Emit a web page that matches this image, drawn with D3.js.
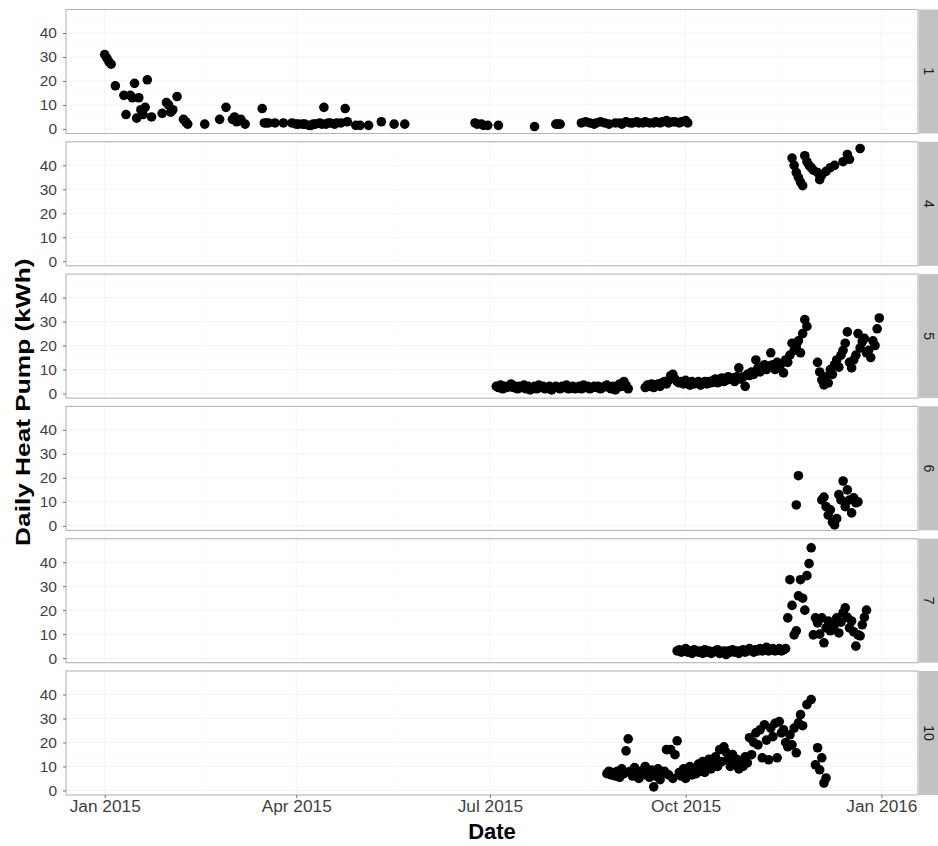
<!DOCTYPE html>
<html>
<head>
<meta charset="utf-8">
<script src="https://cdn.jsdelivr.net/npm/d3@7"></script>
<style>
  html, body { margin: 0; padding: 0; background: #fff; }
  svg { display: block; }
</style>
</head>
<body>
<div id="chart"></div>
<script>
// ---------------- DATA ----------------
// Each point: [day index counted from 2015-01-01, daily heat pump kWh]
const baseDate = "2015-01-01";
const facetLabels = ["1", "4", "5", "6", "7", "10"];
const yTicks = [0, 10, 20, 30, 40];
const xTickDates = ["2015-01-01", "2015-04-01", "2015-07-01", "2015-10-01", "2016-01-01"];
const xTickLabels = ["Jan 2015", "Apr 2015", "Jul 2015", "Oct 2015", "Jan 2016"];
const yTitle = "Daily Heat Pump (kWh)";
const xTitle = "Date";

const unit1 = [[0,31],[1,29.5],[2,28],[3,27],[5,18],[9,14],[10,6],[12,14],[13,13],[14,19],[15,4.5],[16,13],[17,8],[18,6],[19,9],[20,20.5],[22,5],[27,6.5],[29,11],[30,10],[31,7],[32,8],[34,13.5],[37,4],[38,3],[39,2],[47,2],[54,4],[57,9],[60,4],[61,5],[62,3],[63,3.5],[64,4],[66,2],[74,8.5],[75,2.5],[76,2.5],[77,2.5],[80,2.5],[84,2.5],[88,2.5],[90,2],[91,2],[93,2],[94,2],[96,1.5],[97,1.5],[98,2],[99,2],[101,2.5],[102,2],[103,9],[104,2],[105,2.5],[106,2.5],[108,2],[109,2.5],[111,2.5],[113,8.5],[114,3],[118,1.5],[120,1.5],[124,1.5],[130,3],[136,2],[141,2],[174,2.5],[175,2],[177,2],[178,1.5],[180,1.5],[185,1.5],[202,1],[212,2],[213,2],[214,2],[224,2.5],[226,3],[228,2.5],[230,2],[231,2.5],[233,3],[235,2.5],[237,2],[240,2.5],[242,2.5],[243,2],[245,3],[247,2.5],[248,2.5],[250,3],[251,2.5],[253,2.5],[254,3],[256,2.5],[258,2.5],[259,3],[261,2.5],[262,3],[264,3.5],[265,2.5],[267,3],[268,3],[270,2.5],[271,3],[273,3.5],[274,2.5]];

const unit4 = [[323,43],[324,40],[325,37],[326,35],[327,33],[328,31.5],[329,44],[330,41.5],[331,40],[332,39],[333,38],[335,37],[336,34],[337,36],[339,37.5],[341,39],[343,40],[347,41.5],[349,44.5],[350,42.5],[355,47]];

const unit5 = [[184,3],[185,2.5],[186,3.5],[187,2],[188,3],[189,2.5],[190,3],[191,4],[192,2.5],[193,3],[194,2],[195,3],[196,2.5],[197,3.5],[198,2],[199,3],[200,1.5],[201,2.5],[202,3],[203,2],[204,3.5],[205,2.5],[206,3],[207,2],[208,2.5],[209,3],[210,1.5],[211,2.5],[212,3],[213,2.5],[214,2],[215,3],[216,2.5],[217,3.5],[218,2],[219,2.5],[220,3],[221,2],[222,2.5],[223,3],[224,2],[225,3.5],[226,2.5],[227,3],[228,2],[229,2.5],[230,3],[231,2.5],[232,3],[233,2],[234,2.5],[235,3],[236,3.5],[237,2.5],[238,2],[239,3],[240,1.5],[241,2.5],[242,4],[243,3],[244,5],[245,3.5],[246,2],
[254,2.5],[255,3.5],[256,3],[257,4],[258,2.5],[259,3.5],[260,4],[261,3],[262,4.5],[263,5],[264,4],[265,5.5],[266,7.5],[267,8],[268,6],[269,5],[270,4.5],[271,5],[272,4],[273,5.5],[274,4.5],[275,3.5],[276,5],[277,4],[278,4.5],[279,5],[280,3.5],[281,4.5],[282,5],[283,4],[284,5],[285,4.5],[286,5.5],[287,6],[288,4.5],[289,5],[290,6.5],[291,5],[292,5.5],[293,7],[294,6],[295,6.5],[296,5],[297,7],[298,10.7],[299,6],[300,7],[301,3],[302,8],[303,7.5],[304,9],[305,8],[306,14],[307,10.7],[308,9],[309,11],[310,12],[311,10],[312,11.5],[313,17],[314,12],[315,10],[316,13],[317,11],[318,12.5],[319,8.6],[320,14],[321,13],[322,16],[323,21],[324,18],[325,19.5],[326,22],[327,17],[328,25],[329,30.8],[330,28],
[335,13],[336,9],[337,5.7],[338,3.6],[339,7],[340,4.4],[341,10],[342,8],[343,12],[344,14],[345,11],[346,16],[347,18],[348,21],[349,25.7],[350,13],[351,10.7],[352,14],[353,16],[354,25],[355,19],[356,21.6],[357,23],[358,17],[359,18],[360,15],[361,22],[362,20],[363,27],[364,31.5]];

const unit6 = [[325,8.7],[326,20.9],[337,10.8],[338,12],[339,8],[340,4.5],[341,6.7],[342,1.6],[343,0.4],[344,3],[345,13],[346,10.8],[347,18.7],[348,8],[349,15],[350,10.8],[351,5.4],[352,11.7],[353,9.6],[354,10]];

const unit7 = [[269,3],[270,3.5],[271,2.5],[272,3],[273,4],[274,2.5],[275,3],[276,2],[277,3.5],[278,3],[279,2.5],[280,3],[281,2],[282,3.5],[283,2.5],[284,3],[285,2],[286,2.5],[287,3],[288,3.5],[289,2],[290,2.5],[291,3],[292,1.5],[293,3],[294,2.5],[295,3.5],[296,2.5],[297,3],[298,2],[299,3],[300,3.5],[301,2.5],[302,3],[303,4],[304,3],[305,2.5],[306,3.5],[307,3],[308,4],[309,3],[310,3.5],[311,4.5],[312,3],[313,3.5],[314,4],[315,3],[316,3.5],[317,4],[318,3],[319,3.5],[320,4],
[321,16.8],[322,32.7],[323,22],[324,9.7],[325,11.4],[326,26],[327,32.7],[328,25],[329,20],[330,34.4],[331,39.4],[332,46],[333,9.7],[334,16.8],[335,14.7],[336,10],[337,16.8],[338,6.4],[339,12.6],[340,15.5],[341,11.4],[342,13],[343,13.9],[344,16.8],[345,10.5],[346,15],[347,19],[348,21],[349,17],[350,12.6],[351,15.5],[352,11],[353,5],[354,9.7],[355,9.3],[356,13.9],[357,17],[358,20]];

const unit10 = [[236,7],[237,8],[238,6.5],[239,7.5],[240,6],[241,8],[242,5.5],[243,9],[244,7],[245,16.5],[246,21.5],[247,8],[248,6],[249,9.5],[250,7],[251,5],[252,8],[253,6.5],[254,10],[255,7],[256,5.5],[257,8.5],[258,1.5],[259,6],[260,9],[261,4.5],[262,7],[263,8],[264,17],[265,6.5],[266,17],[267,5],[268,14.9],[269,20.7],[270,7.5],[271,6],[272,9],[273,5],[274,8],[275,10],[276,6.5],[277,9],[278,7],[279,11],[280,8],[281,12],[282,7.5],[283,10],[284,13],[285,9],[286,11],[287,14],[288,10],[289,17],[290,12],[291,18.2],[292,16],[293,12.8],[294,10],[295,15],[296,11],[297,13],[298,9],[299,12],[300,10],[301,14],[302,11.5],[303,22],[304,14.9],[305,20],[306,24],[307,19],[308,25.3],[309,13.6],[310,27.4],[311,21],[312,12.8],[313,26],[314,22.4],[315,28],[316,13.6],[317,28.7],[318,24],[319,25.3],[320,20],[321,18.2],[322,23.2],[323,19],[324,26],[325,15.7],[326,28.2],[327,31.6],[328,27],[330,35.8],[332,37.9],[334,10.7],[335,17.8],[336,8.6],[337,13.6],[338,3.1],[339,5.2]];

const seriesByFacet = [unit1, unit4, unit5, unit6, unit7, unit10];

// ---------------- LAYOUT ----------------
const W = 938, H = 846;
const panelLeft = 66, panelRight = 918;
const panelTop0 = 9.5, panelStep = 132.3, panelH = 124;
const stripW = 20;
const yDomain = [-1.9, 49.8];

const parse = d3.utcParse("%Y-%m-%d");
const base = parse(baseDate);
const toDate = d => d3.utcDay.offset(base, d);

const allDates = seriesByFacet.flat().map(p => toDate(p[0]));
const ext = d3.extent(allDates);
const span = ext[1] - ext[0];
const x = d3.scaleUtc()
  .domain([new Date(+ext[0] - span * 0.05), new Date(+ext[1] + span * 0.05)])
  .range([0, panelRight - panelLeft]);
const y = d3.scaleLinear().domain(yDomain).range([panelH, 0]);

const svg = d3.select("#chart").append("svg")
  .attr("width", W).attr("height", H)
  .style("font-family", "'Liberation Sans', Arial, Helvetica, sans-serif");
svg.append("rect").attr("width", W).attr("height", H).attr("fill", "#fff");

const pw = panelRight - panelLeft;
const majorX = xTickDates.map(parse);
const minorX = d3.pairs(majorX).map(([a, b]) => new Date((+a + +b) / 2));
const minorY = [5, 15, 25, 35, 45];
const tickColor = "#3f3f3f";

facetLabels.forEach((lab, i) => {
  const g = svg.append("g").attr("transform", `translate(${panelLeft},${panelTop0 + i * panelStep})`);
  g.append("rect").attr("width", pw).attr("height", panelH).attr("fill", "#fff");

  // grid (very faint)
  g.selectAll(".gminy").data(minorY).join("line")
    .attr("x1", 0).attr("x2", pw).attr("y1", d => y(d)).attr("y2", d => y(d))
    .attr("stroke", "#fafafa").attr("stroke-width", 0.6);
  g.selectAll(".gminx").data(minorX).join("line")
    .attr("x1", d => x(d)).attr("x2", d => x(d)).attr("y1", 0).attr("y2", panelH)
    .attr("stroke", "#fafafa").attr("stroke-width", 0.6);
  g.selectAll(".gmajy").data(yTicks).join("line")
    .attr("x1", 0).attr("x2", pw).attr("y1", d => y(d)).attr("y2", d => y(d))
    .attr("stroke", "#f4f4f4").attr("stroke-width", 1);
  g.selectAll(".gmajx").data(majorX).join("line")
    .attr("x1", d => x(d)).attr("x2", d => x(d)).attr("y1", 0).attr("y2", panelH)
    .attr("stroke", "#f4f4f4").attr("stroke-width", 1);

  // points
  g.append("g").selectAll("circle").data(seriesByFacet[i]).join("circle")
    .attr("cx", d => x(toDate(d[0])))
    .attr("cy", d => y(d[1]))
    .attr("r", 4.8)
    .attr("fill", "#000");

  // panel border
  g.append("rect").attr("width", pw).attr("height", panelH)
    .attr("fill", "none").attr("stroke", "#b5b5b5").attr("stroke-width", 1.1);

  // strip
  g.append("rect").attr("x", pw + 1).attr("y", 0).attr("width", stripW).attr("height", panelH)
    .attr("fill", "#c2c2c2");
  g.append("text")
    .attr("transform", `translate(${pw + 1 + stripW / 2},${panelH / 2}) rotate(90)`)
    .attr("text-anchor", "middle").attr("dominant-baseline", "central")
    .attr("font-size", 14).attr("fill", "#1a1a1a").text(lab);

  // y axis
  const ya = g.append("g").call(d3.axisLeft(y).tickValues(yTicks).tickSize(3).tickPadding(6));
  ya.select(".domain").remove();
  ya.selectAll(".tick line").attr("stroke", "#6f6f6f");
  ya.selectAll(".tick text").attr("fill", tickColor).attr("font-size", 15.5)
    .style("font-family", "'Liberation Sans', Arial, sans-serif");

  if (i === facetLabels.length - 1) {
    const xa = g.append("g").attr("transform", `translate(0,${panelH})`)
      .call(d3.axisBottom(x).tickValues(majorX).tickFormat((d, k) => xTickLabels[k]).tickSize(3).tickPadding(3));
    xa.select(".domain").remove();
    xa.selectAll(".tick line").attr("stroke", "#6f6f6f");
    xa.selectAll(".tick text").attr("fill", tickColor).attr("font-size", 16)
      .style("font-family", "'Liberation Sans', Arial, sans-serif")
      .each(function () {
        const len = this.getComputedTextLength();
        d3.select(this).attr("textLength", len * 1.08).attr("lengthAdjust", "spacingAndGlyphs");
      });
  }
});

// axis titles
svg.append("text")
  .attr("x", panelLeft + pw / 2).attr("y", 839)
  .attr("text-anchor", "middle").attr("font-size", 22).attr("font-weight", "bold")
  .attr("fill", "#000").text(xTitle);
const yt = svg.append("text")
  .attr("transform", `translate(30,${panelTop0 + (5 * panelStep + panelH) / 2}) rotate(-90)`)
  .attr("text-anchor", "middle").attr("font-size", 21).attr("font-weight", "bold")
  .attr("fill", "#000").text(yTitle);
yt.attr("textLength", yt.node().getComputedTextLength() * 1.25).attr("lengthAdjust", "spacingAndGlyphs");
</script>
</body>
</html>
